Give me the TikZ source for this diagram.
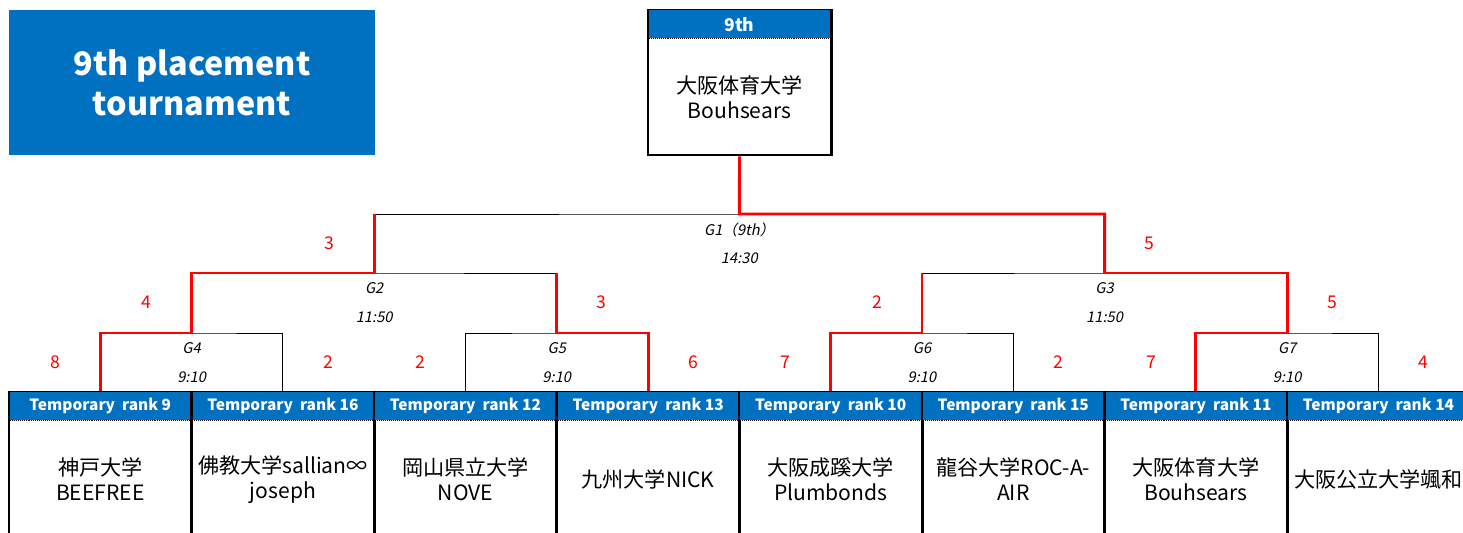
\documentclass[tikz,border=0pt]{standalone}
\usepackage{fontspec}
\setmainfont{Noto Sans CJK JP}
\newfontfamily\slantfont[FakeSlant=0.2]{Noto Sans CJK JP}
\usetikzlibrary{positioning, calc, backgrounds}
\definecolor{hdrblue}{HTML}{0070C0}
\definecolor{winred}{HTML}{FF0000}

\begin{document}
\begin{tikzpicture}[x=0.025cm, y=-0.025cm,
    win/.style={winred, line width=2.1pt},
    lose/.style={black, line width=0.7pt},
    teambox/.style={draw, line width=2.1pt, minimum width=4.565cm, minimum height=4.7cm, inner sep=0pt},
    hdr/.style={fill=hdrblue, text=white, font=\fontsize{11}{12}\selectfont\bfseries, minimum width=4.51cm, minimum height=0.7cm, inner sep=0pt, anchor=north},
    teamname/.style={align=center, font=\fontsize{15}{17.8}\selectfont, inner sep=0pt},
    glabel/.style={font=\slantfont\fontsize{10.5}{12}\selectfont, inner sep=0pt},
    score/.style={text=winred, font=\fontsize{12.5}{14}\selectfont, inner sep=0pt}]

        \useasboundingbox (0,0) rectangle (1463,532);
        \clip (0,0) rectangle (1463,532);

        % title
        \node[fill=hdrblue, text=white, minimum width=9.15cm, minimum height=3.625cm, align=center,
              font=\fontsize{23}{28.5}\selectfont\bfseries] (title) at (192,82.5) {9th placement\\tournament};

        % final winner
        \node[teambox, minimum width=4.575cm, minimum height=3.625cm] (top) at (739.5,82.5) {};
        \node[hdr, minimum width=4.52cm, font=\fontsize{12.5}{14}\selectfont\bfseries] (toph) at ([yshift=-1.05pt]top.north) {9th};
        \draw[densely dotted, line width=0.4pt] (toph.south west) -- (toph.south east);
        \node[teamname] (topn) at ($(top.north)+(0,89)$) {大阪体育大学\\Bouhsears};

        % teams
        \foreach \i/\rk/\nm in {1/9/{神戸大学\\BEEFREE}, 2/16/{佛教大学sallian∞\\joseph},
                                3/12/{岡山県立大学\\NOVE}, 4/13/{九州大学NICK},
                                5/10/{大阪成蹊大学\\Plumbonds}, 6/15/{龍谷大学ROC-A-\\AIR},
                                7/11/{大阪体育大学\\Bouhsears}, 8/14/{大阪公立大学颯和}}{
          \node[teambox] (t\i) at ({100.3+(\i-1)*182.6},486) {};
          \node[hdr] (h\i) at ([yshift=-1.05pt]t\i.north) {Temporary\ \ rank \rk};
          \draw[densely dotted, line width=0.4pt] (h\i.south west) -- (h\i.south east);
          \node[teamname] (n\i) at ($(t\i.north)+(0,89)$) {\nm};
        }

        % games
        \coordinate (g1) at (739.4,214);
        \coordinate (g2) at (374.2,273);
        \coordinate (g3) at (1104.6,273);
        \coordinate (g4) at (191.6,333);
        \coordinate (g5) at (556.8,333);
        \coordinate (g6) at (922,333);
        \coordinate (g7) at (1287.2,333);

        \begin{pgfonlayer}{background}
          \draw[lose] (t1.north) |- (g4) -| (t2.north);
          \draw[lose] (t3.north) |- (g5) -| (t4.north);
          \draw[lose] (t5.north) |- (g6) -| (t6.north);
          \draw[lose] (t7.north) |- (g7) -| (t8.north);
          \draw[lose] (g4) |- (g2) -| (g5);
          \draw[lose] (g6) |- (g3) -| (g7);
          \draw[lose] (g2) |- (g1) -| (g3);

          \draw[win] (t1.north) |- (g4) |- (g2);
          \draw[win] (g2) -- (g2 |- g1);
          \draw[win] (t4.north) |- (g5) -- (g5 |- g2);
          \draw[win] (t5.north) |- (g6) -- (g6 |- g3);
          \draw[win] (t7.north) |- (g7) |- (g3);
          \draw[win] (g3) |- (g1) -- (top.south);
        \end{pgfonlayer}

        \foreach \g/\lab/\tm in {g1/G1（9th）/14:30, g2/G2/11:50, g3/G3/11:50,
                                 g4/G4/9:10, g5/G5/9:10, g6/G6/9:10, g7/G7/9:10}{
          \node[glabel] (\g n) at ($(\g)+(0,15.5)$) {\lab};
          \node[glabel] (\g t) at ($(\g)+(0,44.5)$) {\tm};
        }

        % scores
        \foreach \a/\b/\dx/\s in {g4/t1/-45/8, g4/t2/45/2, g5/t3/-45/2, g5/t4/45/6,
                                  g6/t5/-45/7, g6/t6/45/2, g7/t7/-45/7, g7/t8/45/4,
                                  g2/g4/-45/4, g2/g5/45/3, g3/g6/-45/2, g3/g7/45/5,
                                  g1/g2/-45/3, g1/g3/45/5}{
          \node[score] (s\a\b) at ($(\a -| \b)+(\dx,29)$) {\s};
        }
\end{tikzpicture}
\end{document}
